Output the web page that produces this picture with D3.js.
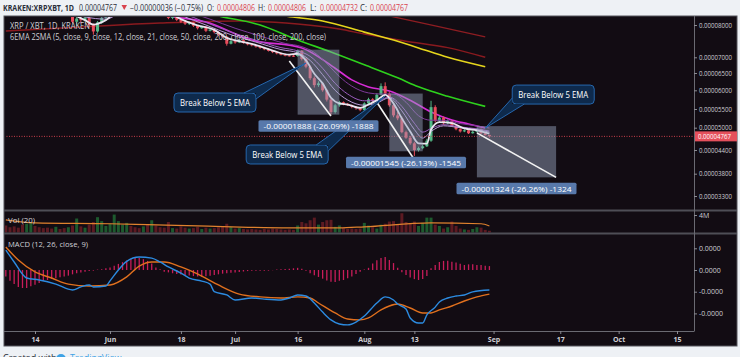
<!DOCTYPE html>
<html>
<head>
<meta charset="utf-8">
<script src="https://cdn.jsdelivr.net/npm/d3@7"></script>
<style>
  body { margin: 0; background: #eef1f5; }
  svg { display: block; font-family: "Open Sans", "DejaVu Sans", sans-serif; }
</style>
</head>
<body>
<svg id="chart" width="740" height="357"></svg>
<script>
// prices are in satoshi (1e-8 BTC), volumes in millions, MACD in units of 1e-6
const firstDay = "2018-05-07", lastDay = "2018-08-31";

const opens = [
  9000,8900,8840,8760,8680,8560,8650,8720,8660,8580,8520,8480,8420,8460,8380,8320,8350,8100,8200,8150,8230,8000,7800,8080,8220,
  8350,8480,8560,8650,8720,8850,8800,8760,8680,8700,8560,8620,8520,8460,8400,8220,8260,8160,8100,8040,8080,7980,7900,7950,7820,7860,7780,7700,7640,7420,
  7500,7460,7530,7450,7400,7370,7330,7290,7250,7200,7160,7120,7080,7060,7050,7040,7200,6950,6700,6350,6150,6200,6000,5750,5420,5600,5680,5640,5600,5560,5520,
  5470,5650,5760,5720,5880,6120,5913,5600,5330,5250,4880,4730,4580,4400,4450,4500,4650,5550,5180,5270,5120,5180,5050,4960,4900,4930,4850,4890,4960,4850,4806
];
const highs = [
  9080,8950,8880,8820,8700,8700,8780,8760,8690,8620,8560,8520,8500,8480,8420,8400,8360,8250,8300,8280,8240,8050,8120,8260,8400,
  8520,8600,8700,8780,8900,8920,8860,8800,8740,8720,8650,8640,8560,8500,8420,8300,8280,8200,8140,8110,8100,8000,7980,7970,7900,7880,7800,7730,7660,7540,
  7530,7560,7560,7480,7430,7400,7360,7320,7280,7230,7190,7150,7110,7100,7090,7237,7220,6980,6740,6400,6260,6230,6030,5790,5640,5720,5700,5660,5620,5580,5540,
  5680,5800,5790,5920,6200,6230,5950,5650,5420,5300,4920,4780,4620,4490,4540,4700,5720,5600,5320,5300,5220,5200,5080,4990,4960,4950,4920,5000,4980,4880,4806
];
const lows = [
  8850,8780,8700,8620,8480,8520,8600,8600,8540,8460,8420,8380,8390,8330,8280,8280,8050,7980,8050,8100,7950,7700,7760,8040,8180,
  8300,8420,8520,8600,8680,8750,8700,8640,8600,8500,8520,8480,8420,8360,8180,8180,8120,8060,8000,8000,7940,7860,7880,7780,7800,7740,7660,7600,7360,7400,
  7420,7440,7420,7370,7340,7300,7260,7220,7180,7130,7090,7060,7030,7020,7010,7020,6900,6650,6300,6080,6100,5960,5700,5349,5380,5560,5600,5580,5520,5480,5440,
  5450,5620,5680,5700,5860,5880,5560,5280,5200,4850,4700,4540,4250,4360,4420,4480,4620,5140,5150,5080,5090,5020,4930,4870,4880,4830,4840,4870,4830,4790,4732
];
const closes = [
  8900,8840,8760,8680,8560,8650,8720,8660,8580,8520,8480,8420,8460,8380,8320,8350,8100,8200,8150,8230,8000,7800,8080,8220,8350,
  8480,8560,8650,8720,8850,8800,8760,8680,8700,8560,8620,8520,8460,8400,8220,8260,8160,8100,8040,8080,7980,7900,7950,7820,7860,7780,7700,7640,7420,7500,
  7460,7530,7450,7400,7370,7330,7290,7250,7200,7160,7120,7080,7060,7050,7040,7200,6950,6700,6350,6150,6200,6000,5750,5420,5600,5680,5640,5600,5560,5520,5470,
  5650,5760,5720,5880,6120,5913,5600,5330,5250,4880,4730,4580,4400,4450,4500,4650,5550,5180,5270,5120,5180,5050,4960,4900,4930,4850,4890,4960,4850,4803,4767
];
const volumes = [
  1.6,1.2,1.4,1.1,1.8,2.0,2.3,1.5,1.2,1.0,1.1,0.9,1.3,0.8,1.0,1.2,1.6,3.2,1.4,1.1,1.8,2.4,3.5,2.6,1.5,
  2.0,4.1,2.6,1.8,2.2,1.5,1.2,1.0,1.4,1.9,2.8,1.6,1.2,1.1,2.4,1.0,0.9,1.4,1.1,0.9,1.0,1.3,0.8,1.1,0.9,1.0,1.2,1.4,2.0,1.3,
  0.9,1.0,0.8,0.7,0.8,0.7,0.6,0.8,0.7,0.9,0.8,0.7,0.6,0.7,0.6,1.6,2.4,2.1,2.8,3.4,1.8,2.4,2.8,2.9,1.3,1.6,1.0,0.8,0.9,0.8,0.9,
  2.2,1.6,1.2,0.9,1.8,2.0,2.5,2.6,1.9,4.4,2.4,2.2,2.5,1.5,2.2,3.4,3.4,1.8,1.5,0.9,1.2,2.5,1.5,0.9,0.7,0.6,0.8,1.2,1.1,0.6,0.4
];
const macdHist = [
  -0.3,-0.5,-0.65,-0.78,-0.83,-0.83,-0.75,-0.68,-0.6,-0.5,-0.46,-0.42,-0.38,-0.33,-0.3,-0.26,-0.2,-0.15,-0.12,-0.08,-0.05,-0.03,0.02,0.04,0.08,
  0.12,0.2,0.28,0.36,0.44,0.52,0.55,0.55,0.5,0.42,0.3,0.12,0.03,-0.08,-0.11,-0.15,-0.18,-0.21,-0.23,-0.25,-0.28,-0.3,-0.31,-0.29,-0.26,-0.23,-0.2,-0.17,-0.15,-0.13,
  -0.11,-0.09,-0.07,-0.05,-0.04,-0.03,-0.03,-0.04,-0.03,-0.01,0.02,0.04,0.05,0.06,0.08,0.1,0.06,-0.04,-0.15,-0.24,-0.32,-0.4,-0.48,-0.54,-0.55,-0.5,-0.46,-0.38,-0.3,-0.18,-0.08,
  0.02,0.1,0.3,0.45,0.55,0.6,0.46,0.32,0.1,-0.1,-0.23,-0.35,-0.42,-0.46,-0.42,-0.28,0.08,0.23,0.37,0.42,0.43,0.38,0.35,0.29,0.23,0.26,0.26,0.23,0.23,0.2,0.18
];
const prevClose = 4803;

// moving averages, [date, price]
const ema5 = [["2018-05-07",8950],["2018-05-12",8680],["2018-05-17",8560],["2018-05-22",8380],["2018-05-26",8150],["2018-05-28",8010],["2018-05-31",8150],
  ["2018-06-05",8700],["2018-06-10",8680],["2018-06-14",8480],["2018-06-18",8180],["2018-06-22",7990],["2018-06-26",7850],["2018-06-29",7600],
  ["2018-07-02",7500],["2018-07-06",7380],["2018-07-10",7210],["2018-07-14",7080],["2018-07-16",7110],["2018-07-18",6900],["2018-07-20",6480],
  ["2018-07-22",6200],["2018-07-24",5800],["2018-07-26",5650],["2018-07-28",5620],["2018-07-31",5530],["2018-08-02",5620],["2018-08-04",5730],
  ["2018-08-06",5880],["2018-08-08",5650],["2018-08-10",5250],["2018-08-12",4900],["2018-08-14",4580],["2018-08-16",4570],["2018-08-17",4950],
  ["2018-08-19",5150],["2018-08-22",5120],["2018-08-25",4980],["2018-08-28",4930],["2018-08-31",4840]];
const ema9 = [["2018-05-07",9000],["2018-05-17",8620],["2018-05-26",8250],["2018-05-31",8180],["2018-06-06",8600],["2018-06-12",8640],["2018-06-18",8300],
  ["2018-06-24",8000],["2018-06-30",7700],["2018-07-06",7470],["2018-07-12",7240],["2018-07-16",7140],["2018-07-19",6900],["2018-07-22",6450],
  ["2018-07-25",6000],["2018-07-28",5740],["2018-08-01",5600],["2018-08-04",5660],["2018-08-07",5800],["2018-08-10",5450],["2018-08-13",4950],
  ["2018-08-15",4720],["2018-08-17",4900],["2018-08-20",5050],["2018-08-24",5000],["2018-08-28",4950],["2018-08-31",4880]];
const ema12 = [["2018-05-07",9050],["2018-05-17",8660],["2018-05-26",8300],["2018-06-01",8250],["2018-06-07",8560],["2018-06-12",8620],["2018-06-18",8380],
  ["2018-06-24",8080],["2018-06-30",7780],["2018-07-06",7530],["2018-07-12",7300],["2018-07-16",7200],["2018-07-19",7030],["2018-07-22",6650],
  ["2018-07-25",6200],["2018-07-28",5900],["2018-08-01",5720],["2018-08-04",5720],["2018-08-07",5820],["2018-08-10",5570],["2018-08-13",5120],
  ["2018-08-15",4880],["2018-08-17",4980],["2018-08-20",5080],["2018-08-24",5020],["2018-08-28",4970],["2018-08-31",4910]];
const ema21 = [["2018-05-07",9150],["2018-05-17",8780],["2018-05-26",8450],["2018-06-02",8380],["2018-06-08",8520],["2018-06-13",8560],["2018-06-19",8420],
  ["2018-06-25",8180],["2018-07-01",7900],["2018-07-07",7660],["2018-07-13",7430],["2018-07-17",7330],["2018-07-20",7150],["2018-07-23",6800],
  ["2018-07-26",6400],["2018-07-29",6120],["2018-08-02",5930],["2018-08-05",5900],["2018-08-08",5900],["2018-08-11",5680],["2018-08-14",5320],
  ["2018-08-17",5200],["2018-08-20",5200],["2018-08-24",5110],["2018-08-28",5050],["2018-08-31",4990]];
const ema50 = [["2018-05-07",9300],["2018-05-25",8900],["2018-06-05",8550],["2018-06-15",8280],["2018-06-24",8090],["2018-07-05",7535],["2018-07-17",7290],
  ["2018-07-25",6650],["2018-07-29",6300],["2018-08-02",6095],["2018-08-07",5980],["2018-08-12",5733],["2018-08-17",5420],["2018-08-22",5206],
  ["2018-08-26",5100],["2018-08-30",4990]];
const sma100 = [["2018-05-07",9800],["2018-06-10",8900],["2018-06-27",8280],["2018-07-07",8000],["2018-07-16",7535],["2018-07-24",7165],["2018-08-01",6760],
  ["2018-08-09",6360],["2018-08-14",6100],["2018-08-21",5840],["2018-08-30",5570]];
const sma200 = [["2018-05-07",10000],["2018-06-15",9100],["2018-07-13",8280],["2018-07-22",8125],["2018-08-01",7780],["2018-08-08",7535],["2018-08-14",7290],
  ["2018-08-21",7000],["2018-08-30",6700]];
const ema200 = [["2018-05-07",7815],["2018-05-25",7940],["2018-06-13",8060],["2018-07-02",8125],["2018-07-16",8030],["2018-07-26",7875],["2018-08-01",7720],
  ["2018-08-11",7500],["2018-08-21",7300],["2018-08-30",7000]];
const emaLong = [["2018-05-07",10200],["2018-06-20",9400],["2018-08-07",8280],["2018-08-18",7970],["2018-08-30",7630]];

const volMA = [["2018-05-07",2.9],["2018-05-14",2.2],["2018-06-01",2.0],["2018-06-10",1.8],["2018-06-22",1.5],["2018-07-14",1.05],["2018-07-26",1.05],
  ["2018-08-01",1.3],["2018-08-17",2.2],["2018-08-29",2.0],["2018-08-31",1.5]];
const macdLine = [["2018-05-07",0.92],["2018-05-09",0.37],["2018-05-12",-0.37],["2018-05-15",-0.46],["2018-05-19",-0.65],["2018-05-23",-0.92],
  ["2018-05-25",-0.78],["2018-05-27",-0.69],["2018-05-28",-0.78],["2018-05-31",-0.74],["2018-06-01",-0.5],["2018-06-03",0.0],["2018-06-05",0.4],
  ["2018-06-08",0.6],["2018-06-11",0.55],["2018-06-13",0.37],["2018-06-15",0.14],["2018-06-18",-0.14],["2018-06-20",-0.37],["2018-06-23",-0.51],
  ["2018-06-25",-0.65],["2018-06-26",-1.0],["2018-06-29",-1.15],["2018-07-01",-1.38],["2018-07-05",-1.29],["2018-07-08",-1.34],["2018-07-12",-1.38],
  ["2018-07-14",-1.29],["2018-07-16",-1.15],["2018-07-18",-1.2],["2018-07-20",-1.52],["2018-07-22",-1.94],["2018-07-24",-2.3],["2018-07-26",-2.49],
  ["2018-07-28",-2.53],["2018-07-30",-2.4],["2018-08-01",-2.12],["2018-08-04",-1.52],["2018-08-06",-1.24],["2018-08-08",-1.38],["2018-08-09",-1.57],
  ["2018-08-11",-1.8],["2018-08-12",-2.21],["2018-08-14",-2.44],["2018-08-15",-2.44],["2018-08-16",-2.07],["2018-08-18",-1.71],["2018-08-19",-1.47],
  ["2018-08-21",-1.29],["2018-08-23",-1.2],["2018-08-25",-1.15],["2018-08-27",-1.01],["2018-08-31",-0.92]];
const signalLine = [["2018-05-07",1.06],["2018-05-10",0.46],["2018-05-14",-0.09],["2018-05-18",-0.37],["2018-05-22",-0.65],["2018-05-27",-0.74],
  ["2018-06-01",-0.69],["2018-06-05",-0.32],["2018-06-08",0.18],["2018-06-11",0.37],["2018-06-14",0.37],["2018-06-18",0.14],["2018-06-23",-0.28],
  ["2018-06-27",-0.69],["2018-07-02",-1.11],["2018-07-07",-1.24],["2018-07-12",-1.29],["2018-07-16",-1.24],["2018-07-19",-1.29],["2018-07-21",-1.52],
  ["2018-07-25",-1.98],["2018-07-28",-2.26],["2018-07-31",-2.3],["2018-08-02",-2.21],["2018-08-05",-1.84],["2018-08-07",-1.66],["2018-08-09",-1.57],
  ["2018-08-12",-1.75],["2018-08-15",-1.98],["2018-08-17",-1.98],["2018-08-19",-1.84],["2018-08-22",-1.66],["2018-08-25",-1.43],["2018-08-28",-1.24],
  ["2018-08-31",-1.11]];

// drawings on the chart
const measures = [
  {from: "2018-07-16", to: "2018-07-26", p0: 7237, p1: 5349},
  {from: "2018-08-07", to: "2018-08-15", p0: 5913, p1: 4368},
  {from: "2018-08-28", to: "2018-09-16", p0: 5042, p1: 3718}
];
const trendLines = [
  {d0: "2018-07-14", p0: 6885, d1: "2018-07-24", p1: 5313},
  {d0: "2018-08-04", p0: 5680, d1: "2018-08-13", p1: 4154},
  {d0: "2018-08-28", p0: 4860, d1: "2018-09-16", p1: 3718}
];
const callouts = [
  {date: "2018-07-18", price: 6818, text: "Break Below 5 EMA"},
  {date: "2018-08-06", price: 5848, text: "Break Below 5 EMA"},
  {date: "2018-08-30", price: 4990, text: "Break Below 5 EMA"}
];
const calloutOffset = [[-132, 30], [-139, 49], [27, -43]];

const priceTicks = [3300, 3800, 4400, 5000, 5500, 6000, 6500, 7000, 8000];
const priceTickY = [196, 173.7, 150, 127.7, 109, 90.3, 73, 57.3, 25];
const macdTicks = [1, 0, -1, -2];
const volTicks = [4];
const timeTicks = ["2018-05-14","2018-06-01","2018-06-18","2018-07-01","2018-07-16","2018-08-01","2018-08-13","2018-09-01","2018-09-17","2018-10-01","2018-10-15"];
const timeTickLabels = ["14","Jun","18","Jul","16","Aug","13","Sep","17","Oct","15"];

// ---------------------------------------------------------------
const parse = d3.timeParse("%Y-%m-%d");
const days = d3.timeDay.range(parse(firstDay), d3.timeDay.offset(parse(lastDay), 1));
const bars = days.map((d, i) => ({date: d, o: opens[i], h: highs[i], l: lows[i], c: closes[i], v: volumes[i], hist: macdHist[i]}));
const fmt8 = v => (v / 1e8).toFixed(8);

const L = 4, R = 694, RA = 737, T = 16, mainB = 210, volB = 233, macdT = 234, macdB = 331, axisB = 346;
const UP = "#53b987", DOWN = "#eb4d5c", BG = "#120c13", TXT = "#cfcfd4";

const svg = d3.select("#chart");
const defs = svg.append("defs");
function clip(id, y0, y1) {
  defs.append("clipPath").attr("id", id).append("rect")
    .attr("x", L + 1).attr("y", y0).attr("width", R - L - 1).attr("height", y1 - y0);
}
clip("cMain", T + 1, mainB);
clip("cVol", mainB + 1, volB);
clip("cMacd", macdT + 1, macdB);

const x = d3.scaleTime().domain([parse("2018-05-14"), parse("2018-10-15")]).range([35, 677]);
const y = d3.scaleLinear().domain(priceTicks).range(priceTickY);
const yVol = d3.scaleLinear().domain([0, 4]).range([232.5, 215]);
const yMacd = d3.scaleLinear().domain([-2, 1]).range([313.4, 248.3]);

// frame
svg.append("rect").attr("width", 740).attr("height", 357).attr("fill", "#eef1f5");
svg.append("rect").attr("x", L).attr("y", T).attr("width", RA - L).attr("height", axisB - T)
  .attr("fill", BG).attr("stroke", "#55555c");

// header: each piece squeezed horizontally to the width it has in the screenshot
const last = bars[bars.length - 1];
const chg = last.c - prevClose;
const header = svg.append("g").attr("font-size", 8.4);
function htext(xp, s, col, w, bold) {
  const t = header.append("text").attr("x", 0).attr("y", 0).text(s)
    .attr("fill", col || "#2a2e39").attr("font-weight", bold ? "bold" : null);
  const nat = t.node().getComputedTextLength();
  t.attr("transform", `translate(${xp},10.5) scale(${Math.min(1, w / nat)},1)`);
}
htext(3, "KRAKEN:XRPXBT, 1D", null, 71, true);
htext(79, fmt8(last.c), null, 38);
htext(130, "\u2212" + fmt8(Math.abs(chg)) + " (\u2212" + Math.abs(chg / prevClose * 100).toFixed(2) + "%)", null, 73);
[["O:", last.o, 207], ["H:", last.h, 258], ["L:", last.l, 310], ["C:", last.c, 360]].forEach(([k, v, xp]) => {
  htext(xp, k, null, 7);
  htext(xp + 10, fmt8(v), "#d9434e", 38);
});
header.append("path").attr("d", "M121.5,5 L127,5 L124.25,10 Z").attr("fill", "#d9434e");

// main pane
const main = svg.append("g").attr("clip-path", "url(#cMain)");
const maLine = (yS) => d3.line().x(p => x(parse(p[0]))).y(p => yS(p[1])).curve(d3.curveMonotoneX);

[[emaLong, "#8e1d22", 1.3], [ema200, "#8a1a1f", 1.5], [sma200, "#e6d61c", 1.6], [sma100, "#2ed11d", 1.6], [ema50, "#d62cd6", 1.6]]
  .forEach(([pts, col, w]) => main.append("path").attr("d", maLine(y)(pts)).attr("fill", "none").attr("stroke", col).attr("stroke-width", w));

const cand = main.append("g").selectAll("g").data(bars).join("g");
cand.append("line").attr("x1", d => x(d.date)).attr("x2", d => x(d.date))
  .attr("y1", d => y(d.h)).attr("y2", d => y(d.l))
  .attr("stroke", d => d.c >= d.o ? UP : DOWN).attr("stroke-width", 1);
cand.append("rect").attr("x", d => x(d.date) - 1.5).attr("width", 3)
  .attr("y", d => y(Math.max(d.o, d.c)))
  .attr("height", d => Math.max(1, Math.abs(y(d.o) - y(d.c))))
  .attr("fill", d => d.c >= d.o ? UP : DOWN);

[[ema21, "#7e3a9a", 1], [ema12, "#9c5cc0", 1], [ema9, "#b99ad6", 1], [ema5, "#e9e6f0", 1.8]]
  .forEach(([pts, col, w]) => main.append("path").attr("d", maLine(y)(pts)).attr("fill", "none").attr("stroke", col).attr("stroke-width", w));

// current price line
main.append("line").attr("x1", L).attr("x2", R).attr("y1", y(last.c)).attr("y2", y(last.c))
  .attr("stroke", "#c8404b").attr("stroke-dasharray", "1,1.5");

// measurement boxes, trend lines, callouts, then the measurement labels on top
const ann = svg.append("g").attr("clip-path", "url(#cMain)");
measures.forEach(m => {
  const x0 = x(parse(m.from)), x1 = x(parse(m.to));
  const y0 = y(m.p0), y1 = y(m.p1);
  ann.append("rect").attr("x", x0).attr("y", y0).attr("width", x1 - x0).attr("height", y1 - y0)
    .attr("fill", "rgba(150,162,190,0.48)");
});
trendLines.forEach(t => {
  ann.append("line").attr("x1", x(parse(t.d0))).attr("y1", y(t.p0))
    .attr("x2", x(parse(t.d1))).attr("y2", y(t.p1))
    .attr("stroke", "#f2f2f2").attr("stroke-width", 1.6);
});

callouts.forEach((c, i) => {
  const tx = x(parse(c.date)), ty = y(c.price);
  const [dx, dy] = calloutOffset[i];
  const bw = 82, bh = 19, bx = tx + dx, by = ty + dy;
  const g = ann.append("g");
  g.append("rect").attr("x", bx).attr("y", by).attr("width", bw).attr("height", bh).attr("rx", 4)
    .attr("fill", "#0e2a4c").attr("stroke", "#2667ad").attr("stroke-width", 1);
  let p1, p2, corner;
  if (dy > 0) { p1 = [bx + bw - 12, by]; corner = [bx + bw, by]; p2 = [bx + bw, by + 6]; }
  else { p1 = [bx, by + bh - 6]; corner = [bx, by + bh]; p2 = [bx + 12, by + bh]; }
  g.append("path").attr("d", d3.line()([[tx, ty], p1, corner, p2])).attr("fill", "#0e2a4c");
  g.append("path").attr("d", d3.line()([p1, [tx, ty], p2])).attr("fill", "none").attr("stroke", "#2667ad");
  g.append("text").attr("x", bx + bw / 2).attr("y", by + 12.8).attr("text-anchor", "middle")
    .attr("font-size", 8.4).attr("fill", "#ffffff").text(c.text)
    .attr("textLength", 70).attr("lengthAdjust", "spacingAndGlyphs");
});

measures.forEach(m => {
  const x0 = x(parse(m.from)), x1 = x(parse(m.to)), y1 = y(m.p1);
  const diff = m.p1 - m.p0;
  const s = "-" + fmt8(Math.abs(diff)) + " (" + (diff / m.p0 * 100).toFixed(2) + "%) " + diff;
  const cx = (x0 + x1) / 2;
  ann.append("rect").attr("x", cx - 60).attr("y", y1 + 5.5).attr("width", 120).attr("height", 11.5)
    .attr("rx", 1.5).attr("fill", "#5879ab");
  ann.append("text").attr("x", cx).attr("y", y1 + 14.3).attr("text-anchor", "middle")
    .attr("font-size", 8).attr("fill", "#ffffff").text(s)
    .attr("textLength", 110).attr("lengthAdjust", "spacingAndGlyphs");
});

// pane titles
svg.append("text").attr("x", 10).attr("y", 29).attr("font-size", 8.5).attr("fill", TXT)
  .text("XRP / XBT, 1D, KRAKEN").attr("textLength", 80).attr("lengthAdjust", "spacingAndGlyphs");
svg.append("text").attr("x", 10).attr("y", 39.5).attr("font-size", 8.5).attr("fill", TXT)
  .text("6EMA 2SMA (5, close, 9, close, 12, close, 21, close, 50, close, 200, close, 100, close, 200, close)")
  .attr("textLength", 316).attr("lengthAdjust", "spacingAndGlyphs");

// volume pane
const vol = svg.append("g").attr("clip-path", "url(#cVol)");
vol.selectAll("rect").data(bars).join("rect")
  .attr("x", d => x(d.date) - 1.5).attr("width", 3)
  .attr("y", d => yVol(d.v)).attr("height", d => yVol(0) - yVol(d.v))
  .attr("fill", d => d.c >= d.o ? "#1d5a2e" : "#5c1a22");
vol.append("path").attr("d", maLine(yVol)(volMA)).attr("fill", "none").attr("stroke", "#e0822e").attr("stroke-width", 1.2);
svg.append("text").attr("x", 8).attr("y", 223).attr("font-size", 8).attr("fill", TXT)
  .text("Vol (20)").attr("textLength", 27).attr("lengthAdjust", "spacingAndGlyphs");

// MACD pane
const mc = svg.append("g").attr("clip-path", "url(#cMacd)");
mc.selectAll("line").data(bars).join("line")
  .attr("x1", d => x(d.date)).attr("x2", d => x(d.date))
  .attr("y1", yMacd(0)).attr("y2", d => yMacd(d.hist))
  .attr("stroke", "#c81d5a").attr("stroke-width", 1.3);
mc.append("path").attr("d", maLine(yMacd)(signalLine)).attr("fill", "none").attr("stroke", "#e0701e").attr("stroke-width", 1.4);
mc.append("path").attr("d", maLine(yMacd)(macdLine)).attr("fill", "none").attr("stroke", "#2c8be0").attr("stroke-width", 1.4);
svg.append("text").attr("x", 8).attr("y", 247).attr("font-size", 8).attr("fill", TXT)
  .text("MACD (12, 26, close, 9)").attr("textLength", 80).attr("lengthAdjust", "spacingAndGlyphs");

// separators
[mainB + 0.5, volB + 0.5].forEach(yy =>
  svg.append("line").attr("x1", L).attr("x2", RA).attr("y1", yy).attr("y2", yy).attr("stroke", "#4e4e56").attr("stroke-width", 2));
svg.append("line").attr("x1", R + 0.5).attr("x2", R + 0.5).attr("y1", T).attr("y2", macdB).attr("stroke", "#6a6a72");
svg.append("line").attr("x1", L).attr("x2", R + 0.5).attr("y1", macdB + 0.5).attr("y2", macdB + 0.5).attr("stroke", "#6a6a72");

// axes
function styleAxis(g, len) {
  g.select(".domain").remove();
  g.selectAll(".tick line").attr("stroke", "#8a8a92");
  g.selectAll(".tick text").attr("fill", TXT).attr("font-size", 7)
    .attr("font-family", "'Open Sans', 'DejaVu Sans', sans-serif");
  if (len) g.selectAll(".tick text").attr("textLength", len).attr("lengthAdjust", "spacingAndGlyphs");
}
svg.append("g").attr("transform", `translate(${R},0)`)
  .call(d3.axisRight(y).tickValues(priceTicks).tickFormat(fmt8).tickSize(3).tickPadding(2))
  .call(g => styleAxis(g, 33));
svg.append("g").attr("transform", `translate(${R},0)`)
  .call(d3.axisRight(yVol).tickValues(volTicks).tickFormat(v => v + "M").tickSize(3).tickPadding(2))
  .call(g => styleAxis(g));
svg.append("g").attr("transform", `translate(${R},0)`)
  .call(d3.axisRight(yMacd).tickValues(macdTicks).tickFormat(v => (v * 1e-6).toFixed(4)).tickSize(3).tickPadding(2))
  .call(g => styleAxis(g));
svg.append("g").attr("transform", `translate(0,${macdB})`)
  .call(d3.axisBottom(x).tickValues(timeTicks.map(parse)).tickFormat((d, i) => timeTickLabels[i]).tickSize(3).tickPadding(3))
  .call(g => styleAxis(g))
  .call(g => g.selectAll(".tick text").attr("font-weight", "bold"));

// last price label
svg.append("rect").attr("x", R + 1).attr("y", y(last.c) - 5).attr("width", RA - R - 1).attr("height", 10).attr("fill", "#e5505c");
svg.append("text").attr("x", R + 4).attr("y", y(last.c) + 2.6).attr("font-size", 7).attr("fill", "#ffffff")
  .text(fmt8(last.c)).attr("textLength", 33).attr("lengthAdjust", "spacingAndGlyphs");

// footer, cut by the bottom edge as in the screenshot
svg.append("text").attr("x", 3).attr("y", 361).attr("font-size", 9).attr("fill", "#2a2e39").text("Created with");
svg.append("circle").attr("cx", 61).attr("cy", 359).attr("r", 5).attr("fill", "#3ea2e5");
svg.append("text").attr("x", 70).attr("y", 361).attr("font-size", 9).attr("fill", "#3ea2e5").text("TradingView");
</script>
</body>
</html>
